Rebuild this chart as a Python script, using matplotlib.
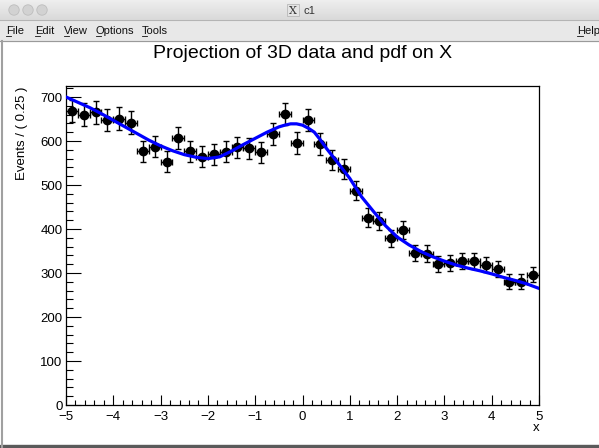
import numpy as np
import matplotlib
matplotlib.use('Agg')
from matplotlib import pyplot as plt
from matplotlib.patches import Rectangle, Circle
from matplotlib.ticker import MultipleLocator

plt.rcParams['font.family'] = ['Liberation Sans', 'DejaVu Sans']

# binned data, 40 bins of width 0.25 on [-5, 5]
bin_width = 0.25
bin_centers = np.arange(-5 + bin_width / 2, 5, bin_width)
counts = [668, 660, 665, 648, 651, 642, 577, 587, 553, 607,
          577, 564, 570, 576, 586, 583, 574, 615, 661, 595,
          648, 593, 557, 536, 487, 426, 419, 379, 398, 346,
          344, 320, 322, 327, 328, 319, 309, 280, 280, 296]

# projected pdf, sampled along x
curve_x = [-5.0, -4.75, -4.5, -4.25, -4.0, -3.75, -3.5, -3.25, -3.0, -2.75,
           -2.5, -2.25, -2.0, -1.75, -1.5, -1.25, -1.0, -0.75, -0.5, -0.375,
           -0.25, -0.125, 0.0, 0.125, 0.25, 0.375, 0.5, 0.75, 1.0, 1.25,
           1.5, 1.75, 2.0, 2.25, 2.5, 2.75, 3.0, 3.25, 3.5, 3.75,
           4.0, 4.25, 4.5, 4.75, 5.0]
curve_y = [700, 688, 676, 662, 647, 632, 617, 602, 589, 578,
           569, 563, 560, 564, 577, 592, 606, 620, 632, 636,
           639, 639, 636, 629, 620, 603, 584, 550, 515, 473,
           440, 408, 382, 364, 349, 337, 327, 318, 311, 305,
           298, 290, 283, 275, 265]

menu_items = ['File', 'Edit', 'View', 'Options', 'Tools']
menu_x = [6, 35, 64, 96, 142]

W, H = 599, 448
fig = plt.figure(figsize=(W / 100, H / 100), dpi=100)

# window decoration drawn in pixel coordinates
bg = fig.add_axes([0, 0, 1, 1])
bg.set_xlim(0, W)
bg.set_ylim(H, 0)
bg.axis('off')
grad = np.linspace(0.93, 0.85, 20).reshape(-1, 1)
bg.imshow(grad, cmap='gray', vmin=0, vmax=1, extent=[0, W, 20, 0], aspect='auto')
bg.add_patch(Rectangle((0, 20), W, 21, color='#e8e8e8'))
bg.plot([0, W], [20, 20], color='#b4b4b4', lw=0.8)
bg.plot([0, W], [41, 41], color='#9a9a9a', lw=0.8)
bg.plot([2, 2], [41, H], color='#a0a0a0', lw=1.5)
bg.add_patch(Rectangle((0, H - 3), W, 3, color='#5a5a5a'))
for cx in [14, 28, 42]:
    bg.add_patch(Circle((cx, 10), 5.2, facecolor='#d2d2d2', edgecolor='#bdbdbd', lw=0.6))
bg.add_patch(Rectangle((287, 4), 12, 12, facecolor='#e4e4e4', edgecolor='#b8b8b8', lw=0.6))
bg.text(293, 10.5, 'X', family='DejaVu Serif', fontsize=8, ha='center', va='center', color='#333333')
bg.text(304, 10.5, 'c1', fontsize=8, ha='left', va='center', color='#333333')
for name, x in zip(menu_items, menu_x):
    bg.text(x, 30.5, name, fontsize=8, ha='left', va='center', color='#111111')
    bg.plot([x, x + 5], [36.5, 36.5], color='#111111', lw=0.6)
bg.text(577, 30.5, 'Help', fontsize=8, ha='left', va='center', color='#111111')
bg.plot([577, 583], [36.5, 36.5], color='#111111', lw=0.6)

# main pad
ax = fig.add_axes([66 / W, 1 - 405 / H, (539 - 66) / W, (405 - 86) / H])
ax.errorbar(bin_centers, counts, xerr=bin_width / 2, yerr=np.sqrt(counts),
            fmt='o', color='black', ms=6, elinewidth=1, capsize=2.2, capthick=1, zorder=3)
ax.plot(curve_x, curve_y, color='#0000ff', lw=2.3, zorder=4)

ax.set_xlim(-5, 5)
ax.set_ylim(0, 725)
ax.xaxis.set_major_locator(MultipleLocator(1))
ax.xaxis.set_minor_locator(MultipleLocator(0.2))
ax.yaxis.set_major_locator(MultipleLocator(100))
ax.yaxis.set_minor_locator(MultipleLocator(20))
ax.tick_params(which='both', direction='in', top=False, right=False, width=0.8,
               labelsize=9.5, colors='black')
ax.tick_params(axis='x', which='major', length=7.2, pad=4)
ax.tick_params(axis='x', which='minor', length=3.6)
ax.tick_params(axis='y', which='major', length=10.5, pad=2.5)
ax.tick_params(axis='y', which='minor', length=5.2)
for s in ax.spines.values():
    s.set_linewidth(0.9)

fig.text(303 / W, 1 - 53 / H, 'Projection of 3D data and pdf on X', fontsize=14,
         ha='center', va='center')
fig.text(22 / W, 1 - 87 / H, 'Events / ( 0.25 )', fontsize=9.5, rotation=90,
         ha='center', va='top')
fig.text(539 / W, 1 - 428 / H, 'x', fontsize=9.5, ha='right', va='center')

fig.savefig('out.png', dpi=100)
